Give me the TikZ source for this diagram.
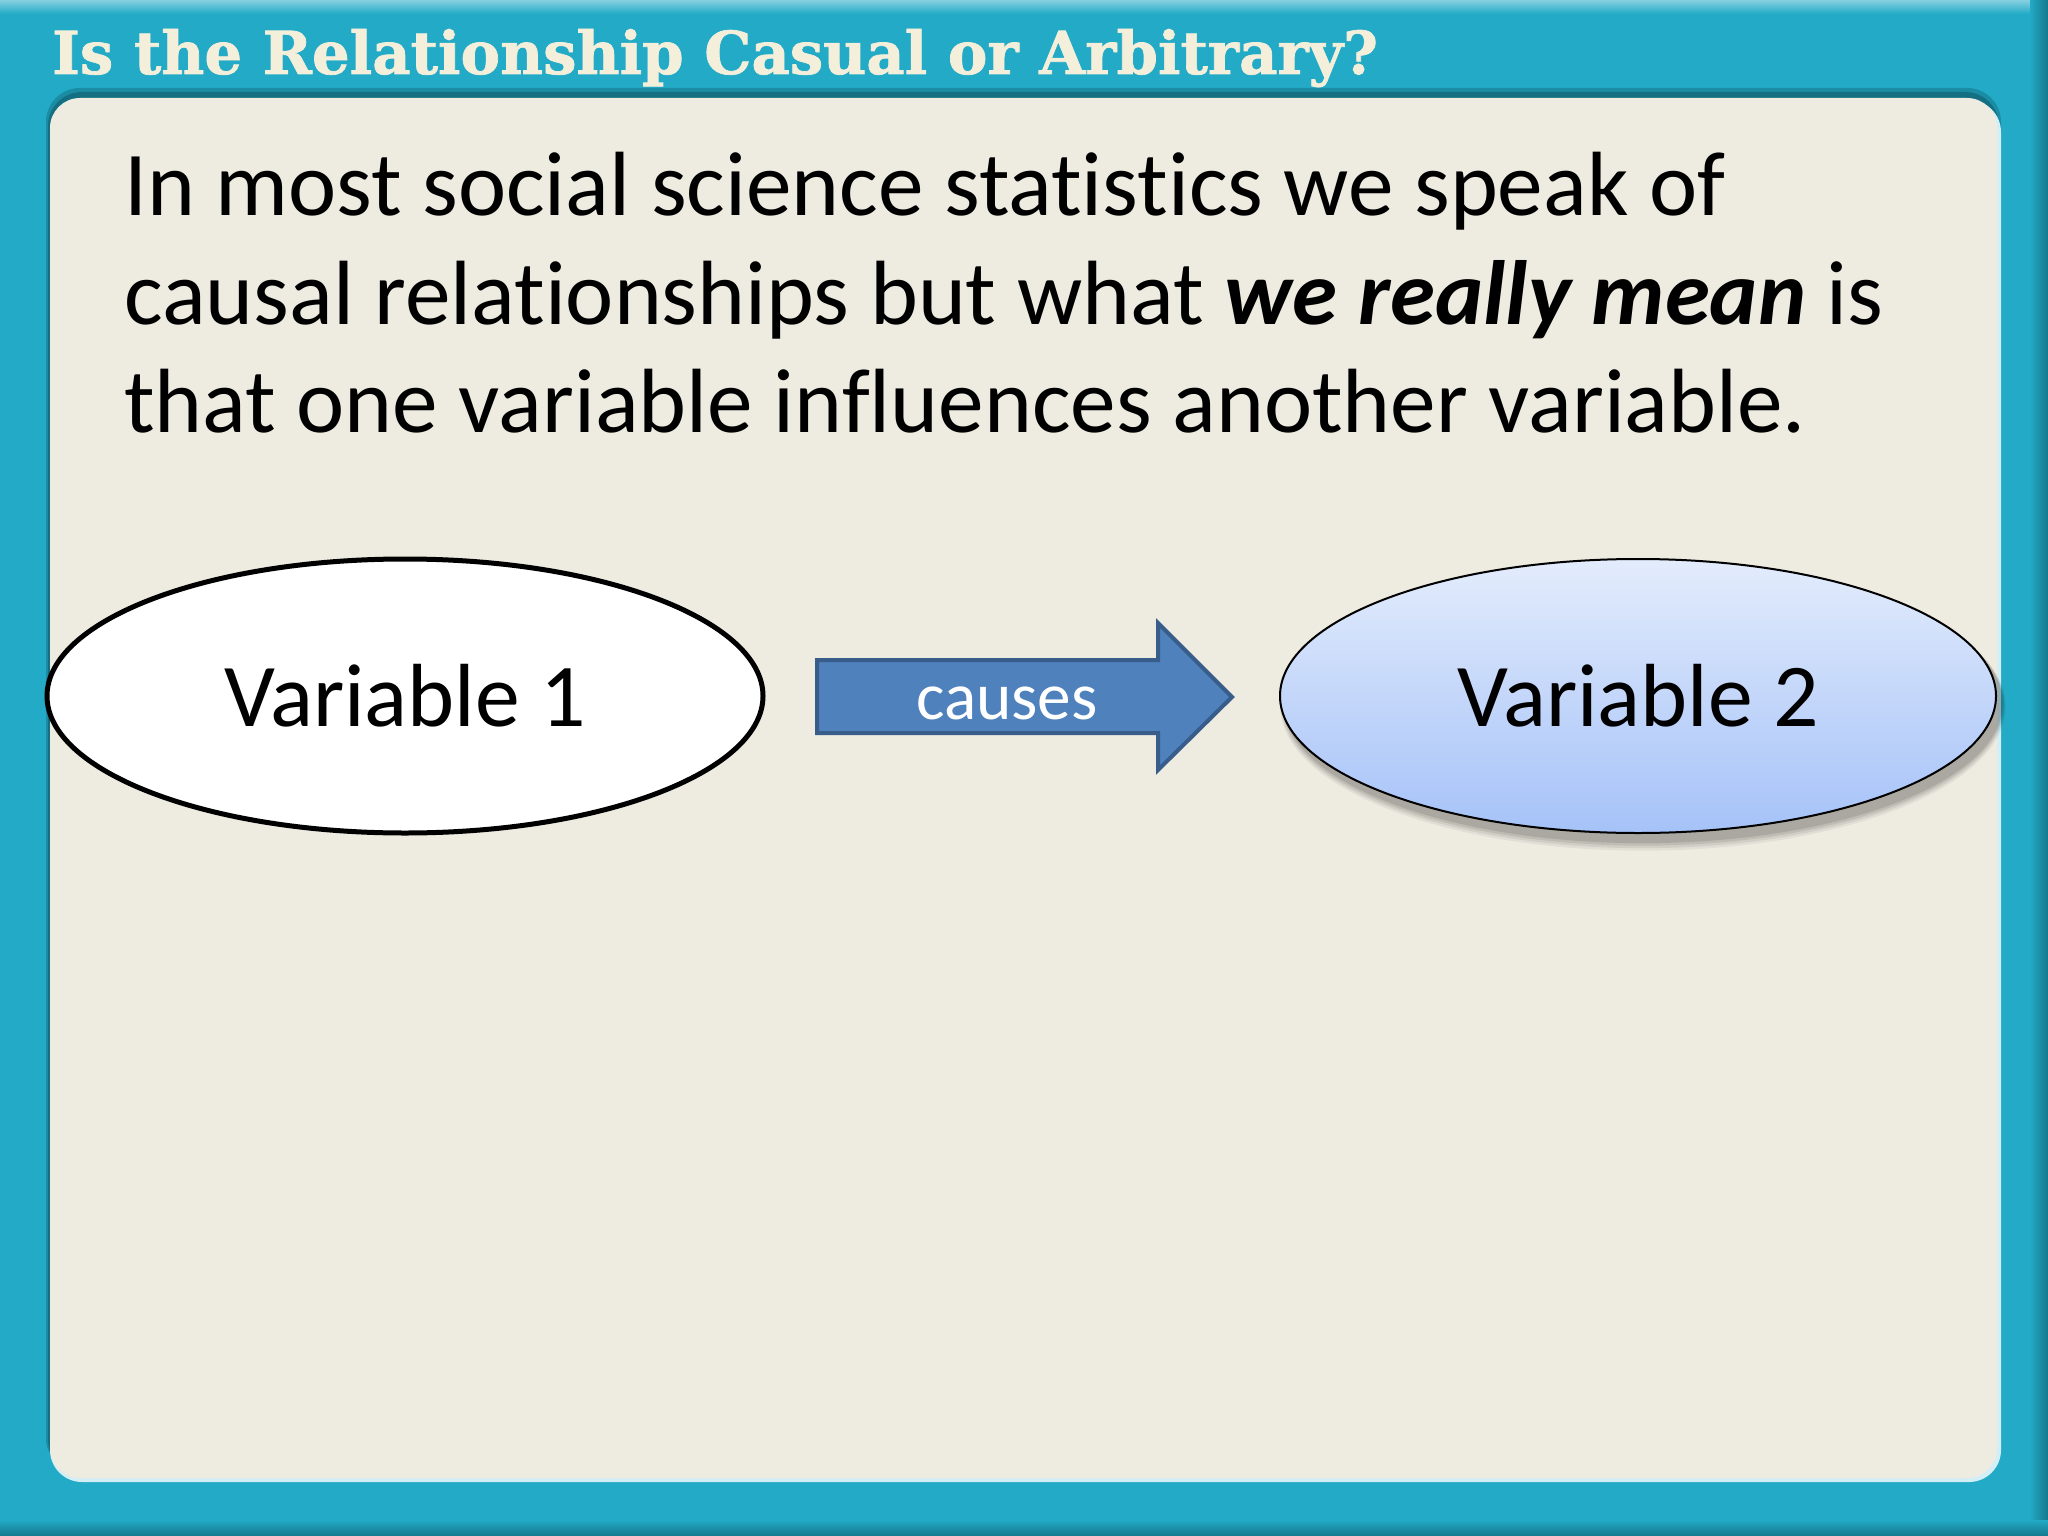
\documentclass[tikz,border=0pt]{standalone}
\usepackage{fontspec}
\setmainfont{Carlito}[Ligatures=NoCommon]
\newfontface\titlefont{DejaVu Serif Bold}[FakeBold=1.2]
\usetikzlibrary{shapes.geometric}
\definecolor{teal}{HTML}{22AAC6}
\definecolor{tealdark}{HTML}{15788C}
\definecolor{panel}{HTML}{EEEBE1}
\definecolor{cream}{HTML}{F3EFDA}
\definecolor{arrowfill}{HTML}{4F81BD}
\definecolor{arrowline}{HTML}{385D8A}
\definecolor{vtop}{HTML}{E3ECFC}
\definecolor{vbot}{HTML}{A5C2F8}
\tikzset{
  bodytext/.style={anchor=base west, inner sep=0pt, font=\fontsize{91.6}{100}\selectfont},
  varbox/.style={ellipse, minimum width=716bp, minimum height=274bp, inner sep=0pt, font=\fontsize{90}{100}\selectfont},
}
\begin{document}
\begin{tikzpicture}[x=1bp,y=-1bp]
\useasboundingbox (0,0) rectangle (2048,1536);
% frame
\fill[teal] (0,0) rectangle (2048,1536);
\fill[top color=teal!55!white, bottom color=teal] (0,0) rectangle (2048,14);
\fill[left color=teal, right color=tealdark] (2030,0) rectangle (2048,1536);
\fill[top color=teal, bottom color=tealdark] (0,1520) rectangle (2048,1536);
% panel shadow
\fill[tealdark, opacity=0.6, rounded corners=34bp] (46,88) rectangle (2001,1472);
\fill[tealdark!70!black, opacity=0.5, rounded corners=34bp] (48,92) rectangle (1999,1474);
\fill[white!80!teal, rounded corners=32bp] (50,100) rectangle (2001,1482);
\fill[panel, rounded corners=30bp] (50,98) rectangle (1997,1478);
% title
\node[anchor=base west, inner sep=0pt, text=cream, font=\titlefont\fontsize{59.5}{64}\selectfont] (title) at (52,74) {Is the Relationship Casual or Arbitrary?};
% body
\node[bodytext] (l1) at (124,215) {In most social science statistics we speak of};
\node[bodytext] (l2) at (124,324) {causal relationships but what \textbf{\textit{we really mean}} is};
\node[bodytext] (l3) at (124,432) {that one variable influences another variable.};
% variable 1
\node[varbox, draw=black, line width=5bp, fill=white] (v1) at (405,696) {Variable 1};
% shadow for variable 2
\foreach \o/\a in {14/0.05,11/0.07,8/0.09,5/0.1}{
  \fill[black, opacity=\a] (1643,702+\o/3) ellipse [x radius=358+\o/3, y radius=137+\o/2];
}
\node[varbox, draw=black, line width=2bp, top color=vtop, bottom color=vbot] (v2) at (1638,696) {Variable 2};
% block arrow
\draw[arrowline, line width=4bp, fill=arrowfill, line join=miter]
  (817,660) -- (1158,660) -- (1158,623) -- (1232,697) -- (1158,770) -- (1158,733) -- (817,733) -- cycle;
\node[text=white, inner sep=0pt, anchor=base, font=\fontsize{67.5}{70}\selectfont] (causes) at (1007,719) {causes};
\end{tikzpicture}
\end{document}
